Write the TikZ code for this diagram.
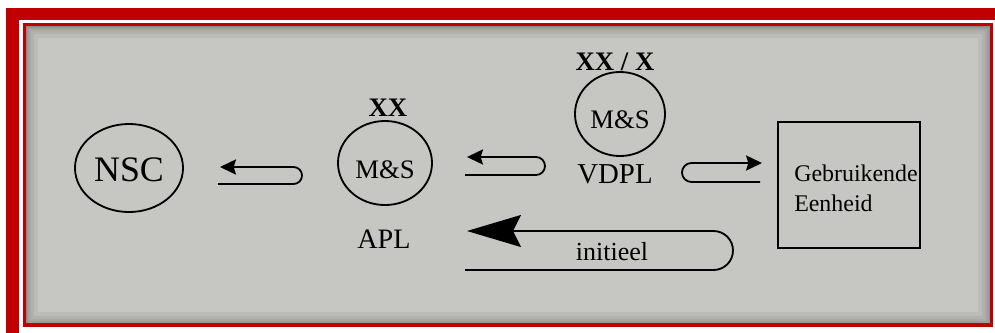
\documentclass[tikz,border=0pt]{standalone}
\usepackage{fontspec}
\setmainfont{Liberation Serif}
\usetikzlibrary{arrows.meta,shapes.geometric}

\definecolor{frame}{RGB}{192,0,0}
\definecolor{paper}{RGB}{198,198,195}

\begin{document}
\begin{tikzpicture}[x=0.025cm,y=-0.025cm,
    ring/.style={ellipse,draw,line width=1.3pt,inner sep=0pt},
    pin/.style={line width=1.3pt},
    thin tip/.style={{Stealth[length=4mm,width=3.8mm,inset=0.6mm]}-},
    fat tip/.style={{Stealth[length=13.5mm,width=8mm,inset=2mm]}-}]

      \useasboundingbox (0,0) rectangle (995,332);

      % frame and paper
      \fill[white] (0,0) rectangle (995,332);
      \draw[frame,line width=0.3cm] (12.5,14) rectangle (1010,350);
      \fill[paper] (25,25) rectangle (991,325);
      \begin{scope}
        \clip (25,25) rectangle (991,325);
        \foreach \w in {26,18,12,8,5,3}
          \draw[black,opacity=.05,line width=\w*0.025cm] (25,25) rectangle (991,325);
      \end{scope}
      \draw[frame,line width=0.09cm] (24.5,24.5) rectangle (991.5,325);

      \begin{scope}[every node/.style={ring}]
        \node[minimum width=2.7cm,minimum height=2.2cm]   (nsc)  at (129,168) {};
        \node[minimum width=2.35cm,minimum height=2.1cm]  (apl)  at (385,163) {};
        \node[minimum width=2.25cm,minimum height=2.1cm]  (vdpl) at (620,114) {};
      \end{scope}
      \node[draw,line width=1.3pt,minimum width=3.55cm,minimum height=3.15cm] (unit) at (849,185) {};

      \begin{scope}[every node/.style={inner sep=0pt}]
        \node[font=\fontsize{25.5}{30}\selectfont]        (nsctxt)  at (129,170) {NSC};
        \node[font=\fontsize{19}{23}\selectfont\bfseries] (aplxx)   at (388,108) {XX};
        \node[font=\fontsize{19}{23}\selectfont]          (aplms)   at (385,170) {M\&S};
        \node[font=\fontsize{20}{24}\selectfont]          (apltxt)  at (384,239) {APL};
        \node[font=\fontsize{19}{23}\selectfont\bfseries] (vdplxx)  at (615,62)  {XX / X};
        \node[font=\fontsize{19}{23}\selectfont]          (vdplms)  at (620,120) {M\&S};
        \node[font=\fontsize{20.5}{24}\selectfont]        (vdpltxt) at (615,174) {VDPL};
        \node[font=\fontsize{17}{21.3}\selectfont,align=left] (unittxt) at (856,188) {Gebruikende\\Eenheid};
        \node[font=\fontsize{18.5}{22}\selectfont]        (initxt)  at (612,252) {initieel};
      \end{scope}

      % hairpin arrows
      \coordinate (p1tip) at (220,167);
      \coordinate (p1top) at (293.5,167);
      \coordinate (p1end) at (218,184);
      \coordinate (p2tip) at (467,157);
      \coordinate (p2top) at (536,157);
      \coordinate (p2end) at (465,175);
      \coordinate (p3tip) at (762,163);
      \coordinate (p3top) at (691.5,163);
      \coordinate (p3end) at (760,182);
      \coordinate (p4tip) at (467,231);
      \coordinate (p4top) at (713.5,231);
      \coordinate (p4end) at (465,270);

      \draw[pin,thin tip] (p1tip) -- (p1top) arc[start angle=-90,end angle=90,radius=8.5] -- (p1end);
      \draw[pin,thin tip] (p2tip) -- (p2top) arc[start angle=-90,end angle=90,radius=9] -- (p2end);
      \draw[pin,thin tip] (p3tip) -- (p3top) arc[start angle=-90,end angle=-270,radius=9.5] -- (p3end);
      \draw[pin,fat tip]  (p4tip) -- (p4top) arc[start angle=-90,end angle=90,radius=19.5] -- (p4end);

    \end{tikzpicture}
\end{document}
